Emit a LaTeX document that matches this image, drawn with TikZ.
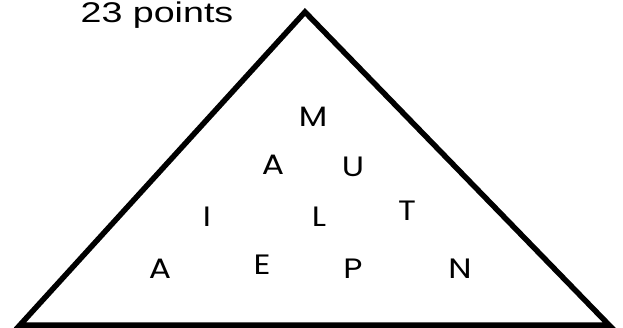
\documentclass[tikz,border=0pt]{standalone}
\usepackage{fontspec}
\setmainfont{Liberation Sans}
\newfontfamily\letterfont{Poppins}
\begin{document}
\begin{tikzpicture}[x=1pt,y=-1pt,
  letter/.style={font=\letterfont\fontsize{28}{28}\selectfont,inner sep=0pt,anchor=base,xscale=1.18},
  score/.style={font=\fontsize{28.5}{28.5}\selectfont,inner sep=0pt,anchor=base,xscale=1.32}]
  \useasboundingbox (0,0) rectangle (623,328);
  \coordinate (top) at (305,12);
  \coordinate (left) at (20,325);
  \coordinate (right) at (609,325);
  \draw[line width=5.5pt,miter limit=10] (top) -- (right) -- (left) -- cycle;
  \node[score] (points) at (157,23) {23 points};
  % letters, row by row
  \node[letter] (m1) at (313,126.7) {M};
  \node[letter] (a1) at (273,175) {A};
  \node[letter] (u1) at (353,176.5) {U};
  \node[letter] (i1) at (207,226.7) {I};
  \node[letter] (l1) at (319,226.7) {L};
  \node[letter] (t1) at (407,221) {T};
  \node[letter] (a2) at (160,278.3) {A};
  \node[letter] (e1) at (262,275) {E};
  \node[letter] (p1) at (353,278.3) {P};
  \node[letter] (n1) at (460,278.3) {N};
\end{tikzpicture}
\end{document}
